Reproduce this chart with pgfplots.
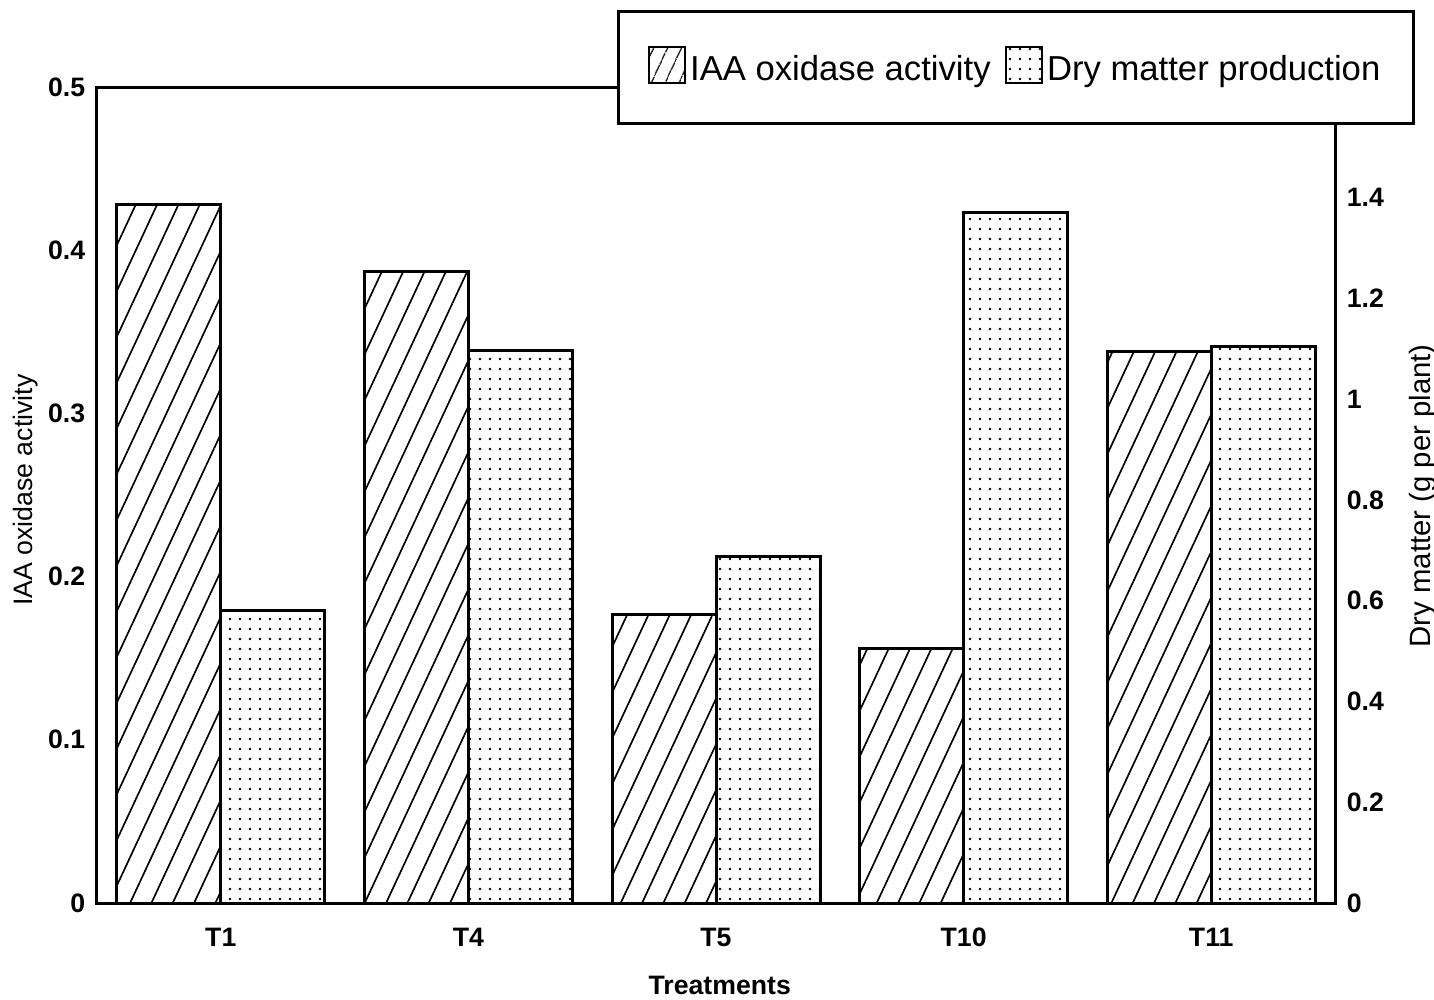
\documentclass[border=0pt]{standalone}
\usepackage{fontspec}
\setmainfont{Liberation Sans}
\usepackage{pgfplots}
\pgfplotsset{compat=1.18}
\usetikzlibrary{patterns.meta}
\pgfplotstableread{
x iaa
0 0.428
1 0.387
2 0.1765
3 0.156
4 0.338
}\iaatable
\pgfplotstableread{
x dry
0 0.581
1 1.097
2 0.687
3 1.371
4 1.105
}\drytable
\tikzset{
  hatchfill/.style={pattern={Lines[angle=65,distance=5.8pt,line width=0.5pt]}},
  dotfill/.style={pattern={Dots[distance=3pt,radius=0.4pt]}},
}
\begin{document}
\begin{tikzpicture}
\pgfplotsset{
  common/.style={
    scale only axis, width=371.4pt, height=244.8pt,
    xmin=-0.5, xmax=4.5,
    major tick length=0pt,
    axis line style={line width=0.9pt},
    /pgf/number format/assume math mode=true,
    ticklabel style={font=\bfseries\fontsize{8}{9}\selectfont},
    label style={font=\fontsize{8}{9}\selectfont},
  }
}
\begin{axis}[common, name=ax,
  ymin=0, ymax=0.5,
  ytick={0,0.1,0.2,0.3,0.4,0.5},
  yticklabels={0,0.1,0.2,0.3,0.4,0.5},
  xtick={0,1,2,3,4},
  xticklabels={T1,T4,T5,T10,T11},
  xticklabel style={yshift=-4pt},
  ylabel={IAA oxidase activity},
  ylabel style={at={(axis description cs:-0.058,0.506)}, anchor=center},
  xlabel={Treatments},
  xlabel style={at={(axis description cs:0.503,-0.1005)}, anchor=center, font=\bfseries\fontsize{8}{9}\selectfont},
]
\addplot[ybar, bar width=31.2pt, bar shift=-15.6pt, draw=black, line width=0.9pt, hatchfill] table[x=x,y=iaa]{\iaatable};
\end{axis}
\begin{axis}[common,
  axis x line=none, axis y line*=right,
  ymin=0, ymax=1.62,
  ytick={0,0.2,0.4,0.6,0.8,1,1.2,1.4},
  yticklabels={0,0.2,0.4,0.6,0.8,1,1.2,1.4},
  ylabel={Dry matter (g per plant)},
  ylabel style={at={(axis description cs:1.071,0.499)}, anchor=center, font=\fontsize{8.8}{10}\selectfont},
  legend columns=2,
  legend style={at={(rel axis cs:0.42,1.094)}, anchor=north west,
    draw=black, line width=0.9pt, fill=white,
    font=\fontsize{10.4}{12}\selectfont,
    inner xsep=8.8pt, inner ysep=10.3pt,
    /tikz/every even column/.append style={column sep=3pt},
    nodes={inner xsep=1.2pt, inner ysep=1pt, yshift=-1.5pt}},
]
\addlegendimage{legend image code/.code={\draw[pattern={Lines[angle=65,distance=4pt,line width=0.5pt]},line width=0.7pt] (0pt,-5.4pt) rectangle (10.8pt,5.4pt);}}
\addlegendentry{IAA oxidase activity}
\addlegendimage{legend image code/.code={\draw[pattern={Dots[distance=3pt,radius=0.4pt]},line width=0.7pt] (0pt,-5.4pt) rectangle (10.8pt,5.4pt);}}
\addlegendentry{Dry matter production}
\addplot[forget plot, ybar, bar width=31.2pt, bar shift=15.6pt, draw=black, line width=0.9pt, dotfill] table[x=x,y=dry]{\drytable};
\end{axis}
\pgfresetboundingbox
\path[use as bounding box] ([shift={(-29.1pt,-28.8pt)}]ax.south west) rectangle ([shift={(401.1pt,270.9pt)}]ax.south west);
\end{tikzpicture}
\end{document}
